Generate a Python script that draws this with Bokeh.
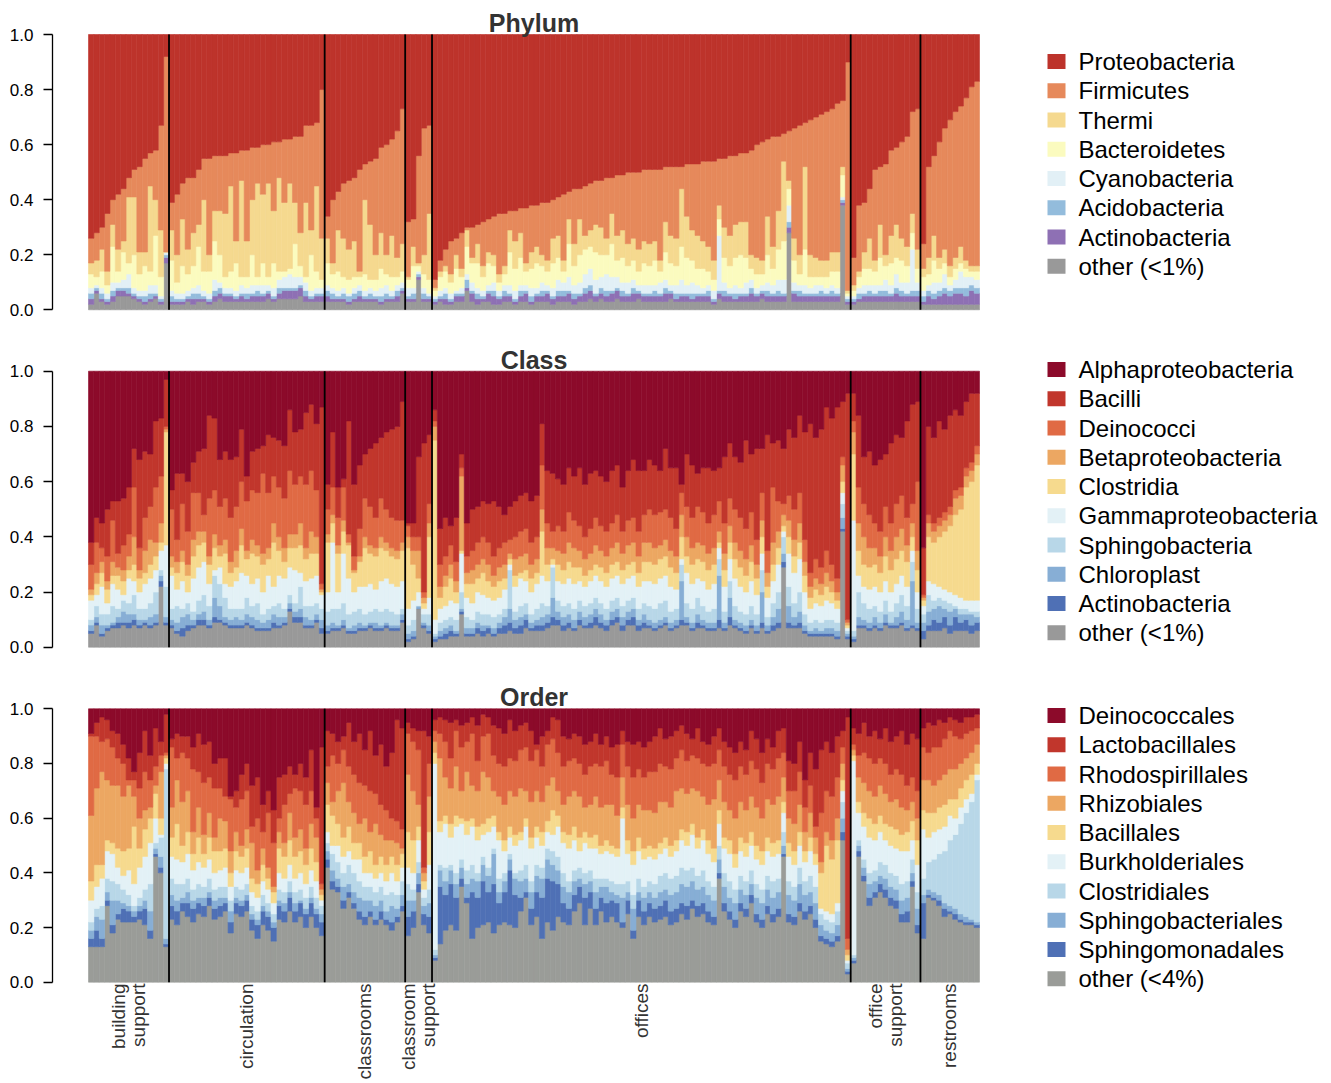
import numpy as np
from bokeh.plotting import figure
from bokeh.layouts import column
from bokeh.models import Range1d, LinearAxis, FixedTicker, PrintfTickFormatter, ColumnDataSource
from bokeh.core.properties import value
from bokeh.embed import file_html
from bokeh.resources import INLINE

# ---------------- categories ----------------
group_labels = ["building\nsupport", "circulation", "classrooms", "classroom\nsupport",
                "offices", "office\nsupport", "restrooms"]
group_sizes = [15, 29, 15, 5, 78, 13, 11]
y_ticks = [0.0, 0.2, 0.4, 0.6, 0.8, 1.0]

# ---------------- Phylum: per-sample percentages (bottom -> top) ----------------
phylum_other = [
    2,6,3,2,3,5,5,5,4,3,2,3,4,2,17,
    2,2,2,3,2,3,3,2,3,4, 3,3,3,3,3,3,3,3,4,3, 4,4,4,4,5,3,3,3,3,
    3,3,3,3,2,3,3,3,3,3,2,3,3,3,6,
    3,3,11,3,3,
    2,3,2,2,3,3,7,3,2,3, 3,2,2,3,3,2,3,3,2,3, 3,3,2,3,3,3,2,3,3,4, 3,4,3,3,4,3,3,3,4,3,
    3,3,3,3,4,3,3,3,3,3, 3,3,2,4,3,3,3,3,3,3, 3,4,3,3,3,3,28,3,3,3, 3,3,3,3,3,3,38,2,
    2,3,3,3,3,3,3,3,3,3,3,3,3,
    2,2,2,2,2,2,2,2,2,2,2]
phylum_actinobacteria = [
    2,1,1,1,2,2,2,1,1,1,1,1,1,1,2,
    1,1,1,1,2,1,1,1,2,2, 2,2,1,2,1,2,2,2,2,1, 2,3,3,3,3,2,1,2,2,
    2,1,1,1,1,1,2,1,1,1,1,1,1,2,1,
    1,1,1,1,1,
    1,1,2,1,2,2,1,3,2,1, 3,3,2,2,2,1,2,3,1,2, 2,3,2,2,2,3,2,2,3,3, 2,2,2,3,3,2,2,3,2,2,
    2,2,2,3,2,1,2,2,1,2, 2,2,1,2,2,2,1,2,2,3, 2,2,2,2,2,2,2,3,2,2, 2,2,2,2,2,2,1,1,
    1,1,2,2,2,2,2,2,3,2,2,2,2,
    1,3,2,3,4,3,4,4,3,5,4]
phylum_acidobacteria = [
    2,1,2,1,2,1,1,2,1,1,2,2,1,1,1,
    2,1,1,1,2,2,1,1,2,2, 1,1,1,1,2,1,2,1,1,1, 2,1,1,1,1,2,1,1,1,
    2,2,1,2,2,2,2,1,2,1,2,2,1,2,1,
    1,2,1,2,1,
    1,1,2,1,1,1,3,1,2,1, 1,2,1,2,1,1,2,1,2,1, 2,1,1,2,2,1,2,1,2,2, 1,2,2,1,1,2,1,2,1,1,
    1,2,1,2,1,2,1,1,2,1, 1,2,1,1,2,1,2,1,1,2, 1,1,2,1,2,1,2,1,2,1, 1,1,2,1,2,1,1,1,
    1,2,1,2,1,2,2,1,2,2,1,2,2,
    2,2,2,2,2,2,2,2,3,2,2]
phylum_cyanobacteria = [
    2,1,2,2,3,2,3,5,2,2,2,3,3,1,1,
    2,2,2,2,2,3,2,2,4,2, 2,2,2,3,2,3,2,3,2,3, 3,4,5,4,3,3,2,2,2,
    2,2,2,2,1,2,2,2,2,2,3,3,2,2,2,
    3,2,1,2,1,
    1,2,2,2,1,2,2,3,2,2, 2,3,2,2,3,3,2,2,3,2, 3,2,3,4,3,5,3,4,5,6, 5,4,6,5,4,3,4,3,2,3,
    3,2,4,3,2,3,5,3,4,3, 2,2,3,20,3,2,3,2,4,3, 2,2,3,3,4,5,6,3,2,3, 2,3,2,2,2,2,1,1,
    1,2,3,2,3,2,4,3,5,3,4,15,3,
    2,2,4,3,5,2,3,6,4,3,3]
phylum_bacteroidetes = [
    5,3,6,3,13,4,10,4,12,6,9,5,18,7,0,
    11,4,10,6,8,14,7,8,14,10, 4,6,10,3,4,11,3,8,3,9, 3,2,2,12,4,2,13,6,3,
    8,5,7,4,5,4,3,6,3,4,7,4,5,3,4,
    3,8,2,5,5,
    2,5,6,4,8,4,10,7,9,5, 8,6,3,4,12,8,10,5,7,9, 6,5,9,8,4,12,7,10,9,8, 10,8,7,12,6,9,6,7,5,8,
    7,9,4,10,8,7,12,10,8,6, 7,5,4,6,9,8,10,12,9,4, 5,4,10,6,11,14,6,8,4,13, 4,3,3,4,5,6,8,1,
    2,4,6,6,5,10,5,8,6,8,6,6,5,
    5,4,8,5,4,3,4,3,3,2,3]
phylum_thermi = [
    4,6,8,5,8,8,4,24,21,8,5,31,13,17,0,
    11,10,17,9,12,8,26,6,11,16, 23,31,8,35,13,20,34,25,34,19, 34,25,31,15,12,27,9,31,15,
    9,4,15,14,11,13,2,27,20,9,13,7,15,7,10,
    1,7,1,7,24,
    1,2,2,3,5,3,6,2,7,4, 4,4,3,3,8,10,9,3,6,6, 4,4,9,8,4,9,8,13,5,6, 10,10,6,11,9,10,8,8,8,8,
    8,7,4,11,10,10,21,15,11,12, 10,9,7,5,11,11,12,12,13,5, 6,5,14,8,14,29,3,8,7,30, 8,7,6,6,7,7,3,1,
    2,2,6,11,4,12,4,10,12,8,7,7,7,
    3,6,9,4,5,4,4,6,3,2,2]
phylum_firmicutes = [
    9,10,8,21,9,20,19,7,10,31,34,12,18,38,71,
    10,22,13,26,20,20,15,35,20,20, 21,12,32,11,33,19,13,18,14,25, 13,23,16,24,35,28,38,23,54,
    8,23,14,20,25,23,37,13,23,35,31,40,35,46,49,
    20,10,39,46,32,
    3,4,6,12,6,13,1,11,7,16, 12,14,22,19,7,11,9,20,17,15, 19,21,14,14,24,10,20,11,18,17, 16,17,22,13,22,20,26,24,28,26,
    27,26,33,20,25,26,8,19,24,26, 29,31,36,17,25,29,25,25,25,38, 41,43,28,40,27,10,18,40,47,16, 49,51,53,54,52,54,24,83,
    10,24,18,18,33,21,33,31,28,35,40,37,51,
    9,33,29,42,44,53,53,51,59,65,67]
phylum_proteobacteria = [
    74,72,70,65,60,58,56,52,49,48,45,43,42,33,8,
    61,58,54,52,52,49,45,45,44,44, 44,43,43,42,42,41,41,40,40,39, 39,38,38,37,37,33,33,32,20,
    66,60,57,54,53,52,49,47,46,45,41,40,38,35,27,
    68,67,44,34,33,
    89,82,78,75,74,72,70,70,69,68, 67,66,65,65,64,64,63,63,62,62, 61,61,60,59,58,57,56,56,55,54, 53,53,52,52,51,51,50,50,50,49,
    49,49,49,48,48,48,48,47,47,47, 46,46,46,45,45,44,44,43,43,42, 40,39,38,37,37,36,35,34,33,32, 31,30,29,28,27,25,24,10,
    81,62,61,56,49,48,47,42,41,39,37,28,27,
    76,48,44,39,34,31,28,26,23,19,17]

# ---------------- Class: cumulative share (%) at the top of each layer ----------------
class_cum_other = [
    5,8,4,6,7,7,8,7,8,7,8,7,8,22,8,
    7,5,4,6,7,8,8,7,9,9, 8,7,7,7,8,7,6,6,6,7, 7,8,13,9,9,7,7,9,5,
    5,6,6,7,5,5,6,6,7,6,6,7,6,6,9,
    2,3,14,7,5,
    2,3,3,4,4,12,4,4,5,4, 5,4,5,5,6,5,5,7,6,6, 6,7,8,8,6,7,6,8,7,7, 8,7,6,8,9,6,8,8,6,7,
    7,6,7,8,6,7,8,8,6,7, 7,6,6,7,6,8,7,6,5,7, 5,7,5,6,7,29,7,7,7,5, 4,4,4,4,4,3,42,3,
    2,7,7,6,7,6,8,7,7,8,6,7,6,
    3,6,6,6,7,5,6,6,6,5,6]
class_cum_actinobacteria = [
    6,9,5,7,8,9,9,9,10,8,9,8,9,24,9,
    8,6,7,8,8,10,10,8,11,10, 9,8,8,8,9,8,7,7,7,9, 8,9,14,11,11,8,8,10,7,
    6,7,7,8,6,6,7,7,8,7,7,8,7,7,10,
    3,4,14,8,6,
    3,4,5,6,5,13,5,5,7,6, 7,5,7,8,9,7,8,10,7,8, 8,9,11,10,8,9,7,10,8,9, 11,9,8,10,11,8,10,11,8,9,
    8,7,8,9,7,8,10,9,7,9, 8,7,7,10,7,11,8,7,6,8, 6,9,6,8,9,31,9,8,9,6, 5,5,5,5,5,4,43,4,
    3,8,8,7,8,7,9,8,8,9,7,8,7,
    6,8,10,9,11,8,11,9,10,8,9]
class_cum_chloroplast = [
    8,11,8,8,9,11,13,12,12,10,10,11,12,26,11,
    10,9,11,12,10,12,13,10,18,15, 11,10,11,10,12,11,10,9,10,12, 11,11,16,13,14,11,10,12,10,
    8,9,8,10,7,8,9,8,9,9,8,9,8,8,12,
    5,6,15,9,8,
    4,6,7,8,6,14,7,7,9,8, 8,7,9,11,14,10,11,12,9,10, 11,12,18,13,11,12,10,13,11,12, 14,12,10,13,14,11,13,14,10,12,
    10,9,10,11,9,10,24,11,9,12, 10,9,9,26,9,18,10,9,8,10, 8,20,8,11,14,34,15,11,13,8, 6,7,6,7,7,6,47,5,
    4,11,10,9,11,9,12,9,11,13,10,24,9,
    9,13,14,15,14,13,14,12,12,12,11]
class_cum_sphingobacteria = [
    10,15,12,12,15,14,17,16,19,14,14,16,20,28,22,
    14,15,14,16,13,17,19,15,26,23, 18,14,14,14,18,15,16,12,14,15, 16,14,19,16,22,15,15,16,14,
    13,14,14,16,12,13,14,12,13,14,13,14,13,12,14,
    8,10,15,12,12,
    5,9,10,11,10,20,11,10,13,12, 12,11,12,14,28,13,15,16,12,14, 16,15,29,17,15,16,14,17,15,16, 18,16,14,17,18,15,17,18,14,16,
    15,14,16,17,13,14,30,16,14,18, 15,13,14,32,13,24,15,13,12,15, 12,28,11,16,20,40,22,16,20,12, 9,10,9,10,10,9,52,6,
    6,20,16,14,15,13,17,13,16,19,15,31,14,
    12,19,17,18,17,16,15,14,14,13,13]
class_cum_gammaproteobacteria = [
    17,19,22,16,23,21,19,25,24,20,23,25,28,35,37,
    26,21,24,20,25,29,31,23,28,29, 23,22,24,27,26,23,25,20,26,22, 26,25,29,28,27,24,25,26,19,
    20,38,20,34,25,20,22,22,23,21,24,25,23,22,24,
    14,17,20,14,18,
    10,14,15,17,16,34,18,16,20,19, 18,17,18,21,30,22,25,24,20,23, 26,24,30,24,23,25,23,24,22,24, 26,24,22,25,26,23,25,26,22,24,
    24,23,25,26,22,21,32,27,23,25, 24,21,23,36,22,32,25,22,20,24, 19,34,18,24,30,42,34,27,32,20, 14,16,15,17,16,14,56,7,
    46,26,22,21,22,20,24,20,23,26,22,35,20,
    15,24,23,22,21,20,19,18,17,17,17]
class_cum_clostridia = [
    19,23,27,21,26,26,24,28,30,25,27,30,33,38,78,
    29,27,31,26,33,37,38,30,36,33, 34,27,29,37,32,34,33,30,32,38, 35,31,36,36,37,32,34,34,20,
    38,45,34,42,37,27,31,36,34,33,36,35,33,32,35,
    36,30,25,16,40,
    75,18,22,25,20,35,23,23,25,27, 24,22,24,25,32,26,27,28,25,27, 42,30,32,30,28,31,29,29,26,28, 30,29,27,30,31,28,30,31,27,31,
    31,30,32,33,29,27,40,33,30,32, 31,28,30,38,28,38,32,29,26,31, 25,40,22,30,36,44,40,33,38,26, 18,21,19,22,20,17,60,8,
    70,35,30,29,30,27,33,28,32,35,31,40,28,
    17,40,38,40,42,44,48,50,58,60,66]
class_cum_betaproteobacteria = [
    21,27,31,24,31,29,28,33,40,28,35,39,38,45,79,
    33,31,35,30,39,42,42,33,41,37, 39,31,35,43,35,39,37,34,36,45, 40,36,41,41,45,36,42,40,21,
    41,48,37,46,38,28,33,40,37,36,40,38,36,35,38,
    40,35,35,18,45,
    80,22,26,30,24,62,27,28,30,32, 30,26,29,30,34,32,33,34,30,32, 50,36,36,35,34,38,36,35,32,34, 37,35,33,36,38,34,37,38,33,38,
    38,36,37,39,35,33,48,40,36,38, 37,34,36,42,34,44,38,35,32,37, 30,46,27,38,42,48,46,39,45,31, 22,25,23,27,24,20,66,9,
    78,45,40,36,36,33,40,35,40,43,37,45,35,
    18,45,42,44,46,48,54,55,62,64,70]
class_cum_deinococci = [
    30,38,36,33,46,34,37,41,58,36,47,51,58,62,80,
    50,39,52,42,56,56,48,54,57,51, 54,47,51,60,53,57,56,63,56,62, 58,54,64,59,62,59,64,57,23,
    50,58,47,58,41,33,43,54,51,47,54,50,47,46,46,
    44,40,40,20,52,
    82,30,33,37,31,65,33,35,38,40, 38,33,36,38,39,40,42,43,38,40, 66,45,42,44,42,49,46,44,40,43, 47,44,42,45,48,42,46,47,42,48,
    50,48,49,50,47,43,56,51,47,51, 49,45,48,53,45,54,50,47,43,49, 39,56,35,58,53,52,55,50,56,39, 27,32,29,35,30,25,69,10,
    82,58,52,48,45,42,51,45,52,55,47,52,60,
    19,48,45,47,49,51,57,58,65,67,73]
class_cum_bacilli = [
    38,47,45,50,53,53,54,58,72,68,71,70,82,83,97,
    57,63,63,60,67,71,72,84,83,68, 71,68,69,79,62,71,72,73,77,76, 75,73,86,78,79,85,88,81,87,
    59,78,58,61,82,59,66,70,72,74,76,78,79,80,89,
    45,45,69,74,77,
    86,43,47,44,47,70,45,50,51,53, 52,53,51,48,51,53,55,56,53,55, 81,64,63,61,59,65,62,65,59,63, 64,62,60,64,66,58,64,68,64,64,
    68,66,64,72,65,65,59,70,66,63, 65,65,64,65,69,74,69,67,75,70, 72,72,77,74,75,72,79,76,84,78, 81,76,79,87,83,87,89,92,
    92,84,69,71,66,68,70,74,77,76,82,88,89,
    36,80,76,82,79,84,86,84,89,92,92]

# ---------------- Order: cumulative share (%) at the top of each layer ----------------
order_cum_other = [
    13,13,13,28,18,23,22,22,22,23,21,16,46,40,13,
    23,21,26,24,22,25,24,28,23,24, 26,18,25,24,26,19,16,21,19,15, 23,22,26,22,24,20,24,20,17,
    42,34,33,27,31,27,23,21,24,21,23,21,19,22,26,
    17,20,33,21,18,
    8,14,19,21,19,35,29,16,20,21, 22,18,21,22,21,20,26,31,21,24, 16,22,19,24,22,21,26,29,21,27, 21,26,22,24,22,20,25,16,24,21,
    24,22,23,24,21,22,25,23,27,24, 25,22,21,38,26,23,20,26,24,29, 22,20,25,22,24,46,22,21,26,23, 25,20,15,14,13,15,52,3,
    7,46,37,28,31,33,31,28,27,22,22,35,18,
    16,31,30,28,24,25,23,22,21,21,20]
order_cum_sphingomonadales = [
    16,19,16,30,21,25,27,26,24,26,27,19,47,42,14,
    28,26,29,29,27,29,28,31,27,28, 29,22,29,28,30,23,21,26,24,20, 28,26,31,26,29,25,29,25,22,
    45,37,35,30,33,29,26,24,26,23,26,23,22,24,28,
    24,26,36,25,24,
    9,35,32,36,31,38,31,33,31,37, 33,36,29,33,41,32,31,33,27,33, 31,38,37,36,29,27,32,35,31,33, 27,31,29,30,29,22,30,19,30,26,
    29,27,28,30,26,27,29,28,30,28, 29,26,24,40,29,26,23,29,27,32, 25,23,28,25,27,47,25,24,29,26, 28,23,17,16,15,17,55,4,
    8,48,39,31,33,36,34,31,30,25,26,37,21,
    29,32,31,30,27,26,25,23,22,22,21]
order_cum_sphingobacteriales = [
    19,24,23,33,30,30,29,28,26,28,30,26,49,46,16,
    32,30,31,33,30,31,31,33,30,31, 31,26,31,30,32,25,23,28,26,22, 30,29,33,29,30,27,31,27,25,
    48,41,38,35,36,33,31,30,30,28,30,26,28,27,32,
    30,30,40,28,29,
    10,41,37,41,36,42,36,38,37,43, 39,47,33,37,45,38,37,38,33,39, 38,45,43,41,35,33,37,38,36,37, 33,35,35,33,32,31,33,27,33,31,
    33,31,33,34,32,33,36,35,37,34, 35,32,30,45,35,31,29,34,32,36, 31,29,34,31,33,50,32,30,36,32, 33,29,21,19,18,21,60,5,
    9,50,42,36,37,39,38,35,34,30,31,40,27,
    32,34,33,32,29,28,27,25,24,23,22]
order_cum_clostridiales = [
    22,27,28,38,37,36,34,32,28,31,34,36,51,53,78,
    38,36,36,38,34,36,35,38,34,35, 35,30,35,34,36,28,26,32,29,25, 34,33,37,33,34,31,35,31,28,
    51,47,44,40,43,40,37,35,35,33,35,32,33,32,37,
    36,34,44,31,34,
    12,43,42,43,40,45,41,43,40,46, 42,49,38,40,47,40,41,43,37,43, 42,49,48,46,40,37,41,42,40,41, 38,38,38,37,36,36,37,32,38,35,
    37,36,39,40,38,39,42,41,42,39, 41,37,35,50,40,37,34,39,37,41, 36,34,39,37,38,55,37,35,42,37, 39,35,25,23,22,26,66,7,
    10,52,45,40,41,44,43,40,39,36,37,45,33,
    38,44,45,47,48,52,54,58,62,66,74]
order_cum_burkholderiales = [
    30,35,38,48,47,42,39,41,36,42,46,51,60,54,80,
    46,45,44,47,41,44,42,45,40,41, 42,35,41,40,42,33,31,37,34,29, 40,38,43,38,40,36,41,37,30,
    55,50,50,46,48,45,45,40,40,38,40,37,40,37,42,
    42,40,52,34,43,
    80,55,58,53,57,58,54,57,52,54, 55,57,52,48,53,50,52,57,49,53, 50,55,54,57,51,49,52,48,51,49, 49,47,48,47,46,60,47,43,48,45,
    46,45,47,49,46,48,52,50,54,49, 52,47,44,58,49,47,42,48,46,50, 45,43,48,46,47,62,46,43,50,44, 48,43,27,26,25,29,70,8,
    81,62,57,53,52,55,52,50,49,48,48,52,43,
    56,53,55,56,57,61,60,64,67,69,76]
order_cum_bacillales = [
    37,43,43,52,51,49,48,49,57,49,56,60,69,60,82,
    53,58,50,55,47,53,47,53,48,48, 49,40,48,46,49,38,36,43,38,33, 49,46,52,46,48,43,49,44,32,
    65,61,58,53,57,51,51,46,48,43,46,43,46,43,47,
    55,52,57,37,55,
    84,59,61,58,61,60,59,60,57,58, 60,61,55,52,57,54,55,60,53,57, 55,59,63,61,55,54,57,53,55,53, 54,50,52,50,49,64,52,48,53,49,
    50,49,51,53,50,52,56,55,58,53, 56,52,49,63,53,52,47,53,51,55, 50,48,53,51,52,66,51,48,55,48, 53,47,40,50,45,52,74,10,
    83,66,62,60,58,61,58,57,56,54,55,59,52,
    63,62,62,64,65,67,67,71,74,76,80]
order_cum_rhizobiales = [
    61,71,77,74,72,72,68,72,68,60,63,64,72,77,83,
    64,74,66,70,55,64,54,62,53,60, 59,48,55,50,56,51,41,49,42,35, 55,51,62,53,56,49,58,53,34,
    73,66,70,73,66,62,58,60,55,58,54,52,52,51,49,
    76,70,65,40,68,
    88,82,75,71,79,70,77,72,70,77, 75,70,68,65,70,68,71,70,66,70, 66,72,75,70,65,68,70,68,64,65, 68,64,65,65,61,75,65,60,65,63,
    63,62,66,66,64,70,71,69,71,70, 68,65,67,74,66,63,60,66,63,68, 64,60,67,65,68,75,60,58,65,55, 62,53,44,55,52,60,80,12,
    85,75,73,70,68,72,69,66,67,64,63,66,60,
    74,74,72,74,76,78,78,80,82,84,87]
order_cum_rhodospirillales = [
    90,90,88,89,86,82,80,74,74,71,77,74,79,83,84,
    86,82,84,82,78,77,73,75,71,71, 68,67,64,67,70,57,60,55,62,51, 60,65,69,71,70,65,70,60,36,
    79,83,80,85,79,76,73,72,70,69,65,63,60,59,56,
    91,88,85,42,80,
    92,91,88,82,92,86,88,91,81,90, 91,83,80,79,82,81,85,86,81,85, 79,87,89,84,79,81,82,80,76,79, 80,79,81,76,75,87,79,75,78,75,
    77,77,80,79,78,82,85,81,83,82, 80,79,80,85,79,76,74,79,76,81, 78,73,80,78,82,84,70,70,77,64, 72,57,62,70,68,75,86,16,
    87,83,84,82,80,82,80,76,78,76,72,75,70,
    86,84,86,86,89,92,90,89,91,92,93]
order_cum_lactobacillales = [
    91,95,97,96,92,91,87,82,77,84,92,83,93,88,98,
    89,91,90,90,86,91,87,88,80,82, 82,68,70,76,80,72,75,65,70,63, 75,76,79,76,80,75,85,64,86,
    92,91,88,90,95,88,91,85,92,83,87,79,84,96,93,
    95,93,92,92,90,
    96,97,96,95,96,94,95,97,94,98, 97,94,93,91,96,92,94,95,92,87, 90,92,97,96,90,89,91,90,87,88, 91,87,90,86,87,92,88,87,88,86,
    88,90,93,89,90,92,94,91,89,93, 88,87,90,93,88,86,84,88,85,92, 89,84,89,86,92,93,81,80,88,74, 84,78,85,88,84,90,92,97,
    93,91,95,90,92,89,93,88,90,92,87,91,89,
    93,95,94,96,95,97,96,95,97,97,98]

# ---------------- legends (top -> bottom) ----------------
phylum_names = ["Proteobacteria", "Firmicutes", "Thermi", "Bacteroidetes", "Cyanobacteria",
                "Acidobacteria", "Actinobacteria", "other (<1%)"]
class_names = ["Alphaproteobacteria", "Bacilli", "Deinococci", "Betaproteobacteria", "Clostridia",
               "Gammaproteobacteria", "Sphingobacteria", "Chloroplast", "Actinobacteria", "other (<1%)"]
order_names = ["Deinococcales", "Lactobacillales", "Rhodospirillales", "Rhizobiales", "Bacillales",
               "Burkholderiales", "Clostridiales", "Sphingobacteriales", "Sphingomonadales", "other (<4%)"]

phylum_colors = ["#bd332b", "#e6895b", "#f5d98f", "#fbfbbf", "#e2f0f6", "#93bcdc", "#8e70b4", "#999999"]
class_colors = ["#8c0a2a", "#c1362c", "#e06a44", "#eca762", "#f6da8e", "#e3f1f6", "#b8d7e8",
                "#87aed5", "#4f70b5", "#999999"]
order_colors = ["#8c0a2a", "#c1362c", "#e06a44", "#eca762", "#f6da8e", "#e3f1f6", "#b8d7e8",
                "#87aed5", "#4f70b5", "#9a9c98"]

# ---------------- geometry ----------------
FONT = "Liberation Sans"
W = 1323
LEFT = 52
N = sum(group_sizes)
X = np.arange(N)
BAR_PX = 891.0 / N
X0 = -0.5 - 36.0 / BAR_PX
X1 = X0 + (W - LEFT) / BAR_PX


def xd(page_x):
    return X0 + (page_x - LEFT) / BAR_PX


def make_panel(height, page_top, page_one, page_zero):
    ppu = page_zero - page_one
    y_end = 1 + (page_one - page_top) / ppu
    y_start = -(page_top + height - page_zero) / ppu
    p = figure(width=W, height=height, x_range=Range1d(X0, X1), y_range=Range1d(y_start, y_end),
               x_axis_type=None, y_axis_type=None, toolbar_location=None, output_backend="svg",
               min_border_left=LEFT, min_border_right=0, min_border_top=0, min_border_bottom=0)
    p.outline_line_color = None
    p.background_fill_color = "white"
    p.border_fill_color = "white"
    p.grid.visible = False
    ax = LinearAxis(ticker=FixedTicker(ticks=y_ticks), formatter=PrintfTickFormatter(format="%.1f"),
                    bounds=(0, 1))
    ax.major_tick_out = 9
    ax.major_tick_in = 0
    ax.minor_tick_out = 0
    ax.minor_tick_in = 0
    ax.axis_line_width = 1.3
    ax.major_tick_line_width = 1.3
    ax.axis_line_color = "black"
    ax.major_tick_line_color = "black"
    ax.major_label_text_font = FONT
    ax.major_label_text_font_size = "17px"
    ax.major_label_text_color = "black"
    ax.major_label_standoff = 10
    p.add_layout(ax, "left")

    def yd(page_y):
        return y_end - (page_y - page_top) / ppu
    return p, yd


def draw_layers(p, bottoms, tops, colors_bottom_up):
    for b, t, c in zip(bottoms, tops, colors_bottom_up):
        src = ColumnDataSource(dict(x=X, bottom=b, top=t))
        p.vbar(x="x", width=1.0, bottom="bottom", top="top", source=src,
               fill_color=c, line_color=c, line_width=0.6)


def decorate(p, yd, title, title_y, names, colors, legend_y0):
    bounds = np.cumsum(group_sizes)[:-1] - 0.5
    p.segment(x0=bounds, y0=0, x1=bounds, y1=1, line_color="black", line_width=1.8)
    p.text(x=[(N - 1) / 2], y=[yd(title_y)], text=[title], text_font=value(FONT),
           text_font_style="bold", text_font_size="25px", text_align="center",
           text_baseline="middle", text_color="#333333")
    ys = [yd(legend_y0 + i * 29.25) for i in range(len(names))]
    p.rect(x=[xd(1056)] * len(names), y=ys, width=18, height=15, width_units="screen",
           height_units="screen", fill_color=colors, line_color=None)
    p.text(x=[xd(1078)] * len(names), y=ys, text=names, text_font=value(FONT),
           text_font_size="24px", text_align="left", text_baseline="middle", text_color="black")


def check(lists):
    for l in lists:
        assert len(l) == N, (len(l), N)


# ---------------- Phylum ----------------
phy_lists = [phylum_other, phylum_actinobacteria, phylum_acidobacteria, phylum_cyanobacteria,
             phylum_bacteroidetes, phylum_thermi, phylum_firmicutes, phylum_proteobacteria]
check(phy_lists)
phy = np.array(phy_lists, dtype=float)
phy = phy / phy.sum(axis=0)
phy_top = np.cumsum(phy, axis=0)
phy_bot = phy_top - phy

p1, yd1 = make_panel(340, 0, 34.0, 309.3)
draw_layers(p1, phy_bot, phy_top, phylum_colors[::-1])
decorate(p1, yd1, "Phylum", 22, phylum_names, phylum_colors, 61)


def cum_layers(lists):
    check(lists)
    cum = np.array(lists, dtype=float) / 100.0
    cum = np.maximum.accumulate(cum, axis=0)
    cum = np.minimum(cum, 1.0)
    tops = np.vstack([cum, np.ones(N)])
    bots = np.vstack([np.zeros(N), cum])
    return bots, tops


# ---------------- Class ----------------
cls_b, cls_t = cum_layers([class_cum_other, class_cum_actinobacteria, class_cum_chloroplast,
                           class_cum_sphingobacteria, class_cum_gammaproteobacteria,
                           class_cum_clostridia, class_cum_betaproteobacteria,
                           class_cum_deinococci, class_cum_bacilli])
p2, yd2 = make_panel(338, 340, 370.7, 646.7)
draw_layers(p2, cls_b, cls_t, class_colors[::-1])
decorate(p2, yd2, "Class", 359, class_names, class_colors, 369)

# ---------------- Order ----------------
ord_b, ord_t = cum_layers([order_cum_other, order_cum_sphingomonadales, order_cum_sphingobacteriales,
                           order_cum_clostridiales, order_cum_burkholderiales, order_cum_bacillales,
                           order_cum_rhizobiales, order_cum_rhodospirillales,
                           order_cum_lactobacillales])
p3, yd3 = make_panel(403, 678, 708.3, 981.7)
draw_layers(p3, ord_b, ord_t, order_colors[::-1])
decorate(p3, yd3, "Order", 696, order_names, order_colors, 715)

starts = np.cumsum(group_sizes) - np.array(group_sizes)
centers = starts + (np.array(group_sizes) - 1) / 2.0
p3.text(x=centers, y=[yd3(983)] * len(group_labels), text=group_labels, angle=np.pi / 2,
        text_font=value(FONT), text_font_size="19px", text_align="right", text_baseline="middle",
        text_color="#333333", text_line_height=0.95)

layout = column(p1, p2, p3, spacing=0)
open("out.html", "w").write(file_html(layout, INLINE, "Taxa composition"))
